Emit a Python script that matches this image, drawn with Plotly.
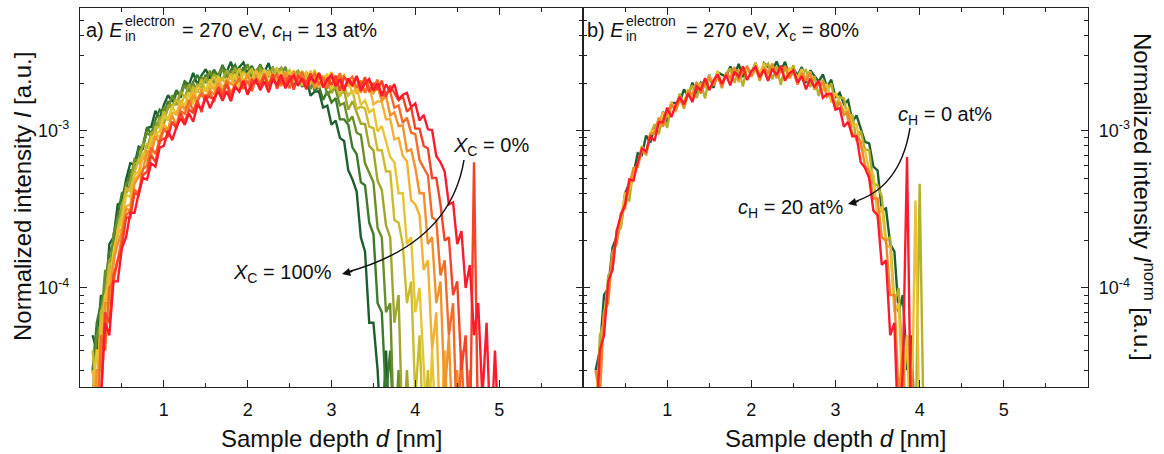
import numpy as np
import plotly.graph_objects as go

W, H = 1164, 454
FONT = "Liberation Sans, Arial, sans-serif"

# sample depth grids [nm]
depth_a = np.round(np.arange(0.15, 5.001, 0.05), 2)
depth_b = np.round(np.arange(0.15, 4.051, 0.05), 2)

# panel a: E = 270 eV, c_H = 13 at%, intensity in units of 1e-5 (X_C = 100% ... 0%)
xc100 = [5,4,9,8,19,21,34,35,49,62,61,79,77,104,106,134,119,146,168,153,181,162,205,195,233,196,225,246,215,244,209,255,236,274,225,253,271,232,258,217,260,236,269,216,238,250,209,229,188,220,195,216,167,177,178,140,144,109,116,90,86,56,49,41,21,17,6,6,3,1,4,1]
xc90 = [3,6,8,10,17,19,29,40,42,56,55,76,81,105,95,117,136,127,154,138,177,172,207,176,204,226,198,227,196,241,224,262,215,243,262,224,253,214,254,231,264,214,238,252,212,235,196,233,210,239,190,208,216,179,192,157,178,151,161,118,118,109,78,71,47,45,26,22,8,7,2,4,1]
xc80 = [2,5,6,13,12,22,28,31,46,49,66,63,81,97,92,113,106,139,137,168,146,172,194,173,200,175,217,204,241,200,227,246,213,240,205,249,229,265,216,241,257,219,243,205,246,224,255,206,227,240,201,222,184,216,192,215,168,182,183,145,150,114,123,97,94,62,54,47,24,21,7,8,1,3,1]
xc70 = [3,2,7,9,15,16,22,34,40,46,62,62,83,77,97,98,123,109,144,145,147,178,162,198,167,197,185,219,181,227,218,210,243,213,252,205,237,217,249,201,247,232,221,252,218,253,203,232,211,241,193,235,218,204,230,194,220,173,191,167,181,136,154,131,111,110,80,75,48,42,25,21,6,9,1,3,1]
xc60 = [4,2,7,8,14,15,24,29,43,41,54,66,66,83,78,105,105,133,116,140,159,143,170,150,188,178,212,177,204,222,193,219,188,230,213,249,203,230,245,209,235,198,239,218,252,204,227,242,206,230,194,232,211,243,195,214,223,186,202,165,191,167,181,137,142,138,106,104,75,75,55,55,27,26,19,8,11,2,5,1,3,1]
xc50 = [2,4,4,9,10,17,23,27,39,38,52,55,72,66,91,95,99,124,116,144,125,151,146,176,147,188,184,180,211,187,223,184,213,197,230,187,232,221,211,242,210,245,199,228,208,239,191,235,221,210,240,207,241,194,221,201,230,183,219,202,186,207,171,191,146,156,131,137,99,107,86,68,63,40,40,19,21,7,10,3,1,4,1]
xc40 = [3,2,6,7,12,14,22,24,33,34,49,52,69,65,82,96,90,110,101,130,127,157,134,158,175,156,181,158,195,183,216,179,204,221,192,216,186,225,208,241,196,220,237,202,226,191,230,210,242,197,220,235,200,223,187,225,206,236,191,212,226,191,208,171,199,175,193,147,154,152,118,119,88,90,69,64,36,34,29,13,15,4,7,1,4,1]
xc30 = [1,3,3,8,8,15,19,23,32,31,46,51,56,74,71,92,82,103,102,125,108,141,141,141,168,152,184,154,181,170,201,164,207,198,191,222,194,229,187,215,197,228,184,228,215,205,235,203,238,193,220,201,230,185,227,213,202,231,198,230,185,211,191,217,174,208,190,173,189,154,168,125,131,107,108,74,76,58,40,40,19,21,8,11,2,5,1,3,1]
xc20 = [2,1,5,4,10,11,15,21,29,31,42,40,57,60,78,71,87,102,95,114,103,133,128,156,133,155,172,153,176,152,189,177,207,172,197,213,184,208,178,216,199,231,189,213,229,195,218,186,224,206,237,193,216,230,196,218,185,222,202,232,187,208,220,187,208,174,209,188,211,164,175,177,140,145,112,121,97,95,65,58,52,28,27,12,15,5,8,1,4,1,3,1]
xc10 = [1,2,2,7,6,12,15,18,28,28,40,39,52,55,70,63,86,89,92,113,105,130,113,136,130,156,131,167,163,159,188,165,198,164,192,178,206,169,211,200,192,222,193,228,185,213,195,225,182,224,212,202,231,200,232,188,214,196,224,179,219,206,194,220,189,219,176,201,182,208,164,193,174,156,166,132,141,103,103,80,77,50,50,34,20,21,9,11,3,5,1,63,1]
xc0 = [1,1,2,6,5,11,11,18,21,30,30,40,50,49,62,59,78,80,100,87,105,120,109,129,114,144,138,166,139,161,178,155,178,154,190,177,207,171,195,210,181,205,175,213,196,227,186,209,225,193,215,183,220,202,233,189,211,226,192,213,180,215,195,223,179,200,213,180,200,167,197,177,198,157,169,174,141,149,116,126,102,101,69,63,55,34,35,19,23,10,14,5,8,2,6,1,4,1]

# panel b: E = 270 eV, X_c = 80%, intensity in units of 1e-5 (c_H = 0 ... 20 at%)
ch0 = [3,4,9,10,18,21,25,40,46,53,72,70,93,84,106,105,132,114,150,150,152,183,165,202,170,202,191,226,187,235,227,220,256,225,266,219,252,232,269,218,269,254,241,275,237,274,221,249,225,254,201,242,222,205,228,189,211,162,174,148,156,114,125,104,85,83,59,56,31,32,19,17,7,9,3,5,1]
ch5 = [1,5,6,12,13,23,24,37,36,57,60,80,70,94,110,95,125,104,146,138,172,138,175,194,161,202,160,218,199,239,186,231,248,201,246,191,255,228,270,207,252,267,212,256,195,257,226,261,197,234,243,189,223,166,212,180,200,144,163,160,116,127,86,100,76,75,46,45,38,20,21,8,10,3,5,1,1,46,1]
ch10 = [2,3,7,9,16,20,27,40,41,56,59,78,71,97,101,105,131,122,152,131,159,152,184,154,197,193,190,224,199,238,197,230,213,248,203,253,240,230,265,230,270,219,249,227,259,207,251,234,219,246,208,238,186,206,180,198,151,174,153,133,139,107,110,77,75,56,53,28,33,19,18,7,8,2,5,1,36,1]
ch15 = [3,2,7,8,17,19,30,32,45,58,59,75,71,95,96,121,106,129,147,134,158,141,178,170,204,172,199,219,193,220,190,233,217,254,209,238,255,220,248,210,253,232,267,216,241,254,215,236,196,232,208,233,183,198,202,164,172,136,152,126,131,95,93,85,60,55,37,37,21,20,9,9,2,4,1,3,1]
ch20 = [1,4,5,11,13,23,29,34,49,48,63,77,74,93,86,113,113,140,122,145,164,147,173,152,191,181,216,181,208,228,198,226,194,237,220,256,210,238,255,219,244,207,248,226,259,208,231,242,203,222,183,214,189,209,162,171,171,136,139,106,114,92,92,63,58,50,31,29,14,15,5,6,1,3,68,1]

series_a = [xc100, xc90, xc80, xc70, xc60, xc50, xc40, xc30, xc20, xc10, xc0]
colors_a = ['#1b5e30', '#3d7a2c', '#6a8f2a', '#a0a62c', '#cbbb2e', '#e6c532',
            '#f1b232', '#f2922c', '#f26b28', '#f44326', '#ff1a2e']
series_b = [ch0, ch5, ch10, ch15, ch20]
colors_b = ['#1b5e30', '#b3b02c', '#e8c232', '#f2852a', '#ff1a2e']

fig = go.Figure()
for vals, col in zip(series_a, colors_a):
    fig.add_trace(go.Scatter(x=depth_a[:len(vals)], y=np.array(vals) * 1e-5, mode='lines',
                             line=dict(color=col, width=2.4), xaxis='x', yaxis='y',
                             showlegend=False, hoverinfo='skip'))
for vals, col in zip(series_b, colors_b):
    fig.add_trace(go.Scatter(x=depth_b[:len(vals)], y=np.array(vals) * 1e-5, mode='lines',
                             line=dict(color=col, width=2.4), xaxis='x2', yaxis='y2',
                             showlegend=False, hoverinfo='skip'))


def px(x):
    return x / W


def py(y):
    return 1 - y / H


xa_dom = [px(80), px(583)]
xb_dom = [px(583), px(1088)]
y_dom = [py(387), py(8)]

minor_y = [3e-5, 4e-5, 5e-5, 6e-5, 7e-5, 8e-5, 9e-5,
           2e-4, 3e-4, 4e-4, 5e-4, 6e-4, 7e-4, 8e-4, 9e-4,
           2e-3, 3e-3, 4e-3, 5e-3]

xax = dict(range=[0, 6], showline=True, linecolor='#222', linewidth=1.3, mirror='ticks',
           ticks='inside', ticklen=7, tickwidth=1.2, tickcolor='#222',
           tickvals=[0, 1, 2, 3, 4, 5, 6], ticktext=['', '1', '2', '3', '4', '5', ''],
           minor=dict(ticks='inside', ticklen=4, tickwidth=1.1, tickcolor='#222',
                      tickvals=[0.5, 1.5, 2.5, 3.5, 4.5, 5.5]),
           showgrid=False, zeroline=False, ticklabelstandoff=6,
           tickfont=dict(family=FONT, size=18, color='#111'))
yax = dict(type='log', range=[-4.63, -2.22], domain=y_dom, showline=True, linecolor='#222',
           linewidth=1.3, mirror='ticks', ticks='inside', ticklen=7, tickwidth=1.2,
           tickcolor='#222', tickvals=[1e-4, 1e-3], ticktext=['10<sup>-4</sup>', '10<sup>-3</sup>'],
           minor=dict(ticks='inside', ticklen=4, tickwidth=1.1, tickcolor='#222',
                      tickvals=minor_y),
           showgrid=False, zeroline=False, ticklabelstandoff=6,
           tickfont=dict(family=FONT, size=18, color='#111'))

fig.update_layout(
    width=W, height=H, margin=dict(l=0, r=0, t=0, b=0),
    paper_bgcolor='white', plot_bgcolor='white',
    xaxis=dict(xax, domain=xa_dom, anchor='y'),
    yaxis=dict(yax, anchor='x', side='left'),
    xaxis2=dict(xax, domain=xb_dom, anchor='y2'),
    yaxis2=dict(yax, anchor='x2', side='right'),
)

ann = []


def text(x, y, s, size=20, anchor='center', angle=0, yanchor='middle'):
    ann.append(dict(x=px(x), y=py(y), xref='paper', yref='paper', text=s, showarrow=False,
                    xanchor=anchor, yanchor=yanchor, textangle=angle,
                    font=dict(family=FONT, size=size, color='#111')))


# axis titles
text(331.5, 438, 'Sample depth <i>d</i> [nm]', size=24)
text(835.5, 438, 'Sample depth <i>d</i> [nm]', size=24)
text(23, 197, 'Normalized intensity <i>I</i> [a.u.]', size=24, angle=-90)
text(1144, 197, 'Normalized intensity <i>I</i><sup>norm</sup> [a.u.]', size=24, angle=90)

# panel labels (sub/superscript of E stacked by hand)
text(125, 30, 'a) <i>E</i>', anchor='right')
text(123, 21, 'electron', size=14, anchor='left')
text(123, 36, 'in', size=14, anchor='left')
text(180, 32, '= 270 eV, <i>c</i><sub>H</sub> = 13 at%', anchor='left')
text(626, 30, 'b) <i>E</i>', anchor='right')
text(624, 21, 'electron', size=14, anchor='left')
text(624, 36, 'in', size=14, anchor='left')
text(684, 32, '= 270 eV, <i>X</i><sub>c</sub> = 80%', anchor='left')

# series annotations
text(491, 147, '<i>X</i><sub>C</sub> = 0%')
text(282, 273, '<i>X</i><sub>C</sub> = 100%')
text(945, 115, '<i>c</i><sub>H</sub> = 0 at%')
text(790, 208, '<i>c</i><sub>H</sub> = 20 at%')

# arrow heads
for (hx, hy) in [(342, 274), (848, 204)]:
    ann.append(dict(x=px(hx), y=py(hy), xref='paper', yref='paper', text='', showarrow=True,
                    ax=12, ay=-3, arrowhead=2, arrowsize=1.1, arrowwidth=1.5, arrowcolor='#111'))

fig.update_layout(annotations=ann)

# curved arrows
fig.add_shape(type='path', xref='paper', yref='paper',
              path=f'M {px(464)},{py(160)} Q {px(450)},{py(245)} {px(344)},{py(273)}',
              line=dict(color='#111', width=1.5))
fig.add_shape(type='path', xref='paper', yref='paper',
              path=f'M {px(910)},{py(128)} Q {px(900)},{py(190)} {px(850)},{py(203)}',
              line=dict(color='#111', width=1.5))

fig.write_html('out.html', config={'displayModeBar': False},
               post_script="document.body.style.margin='0px';")
